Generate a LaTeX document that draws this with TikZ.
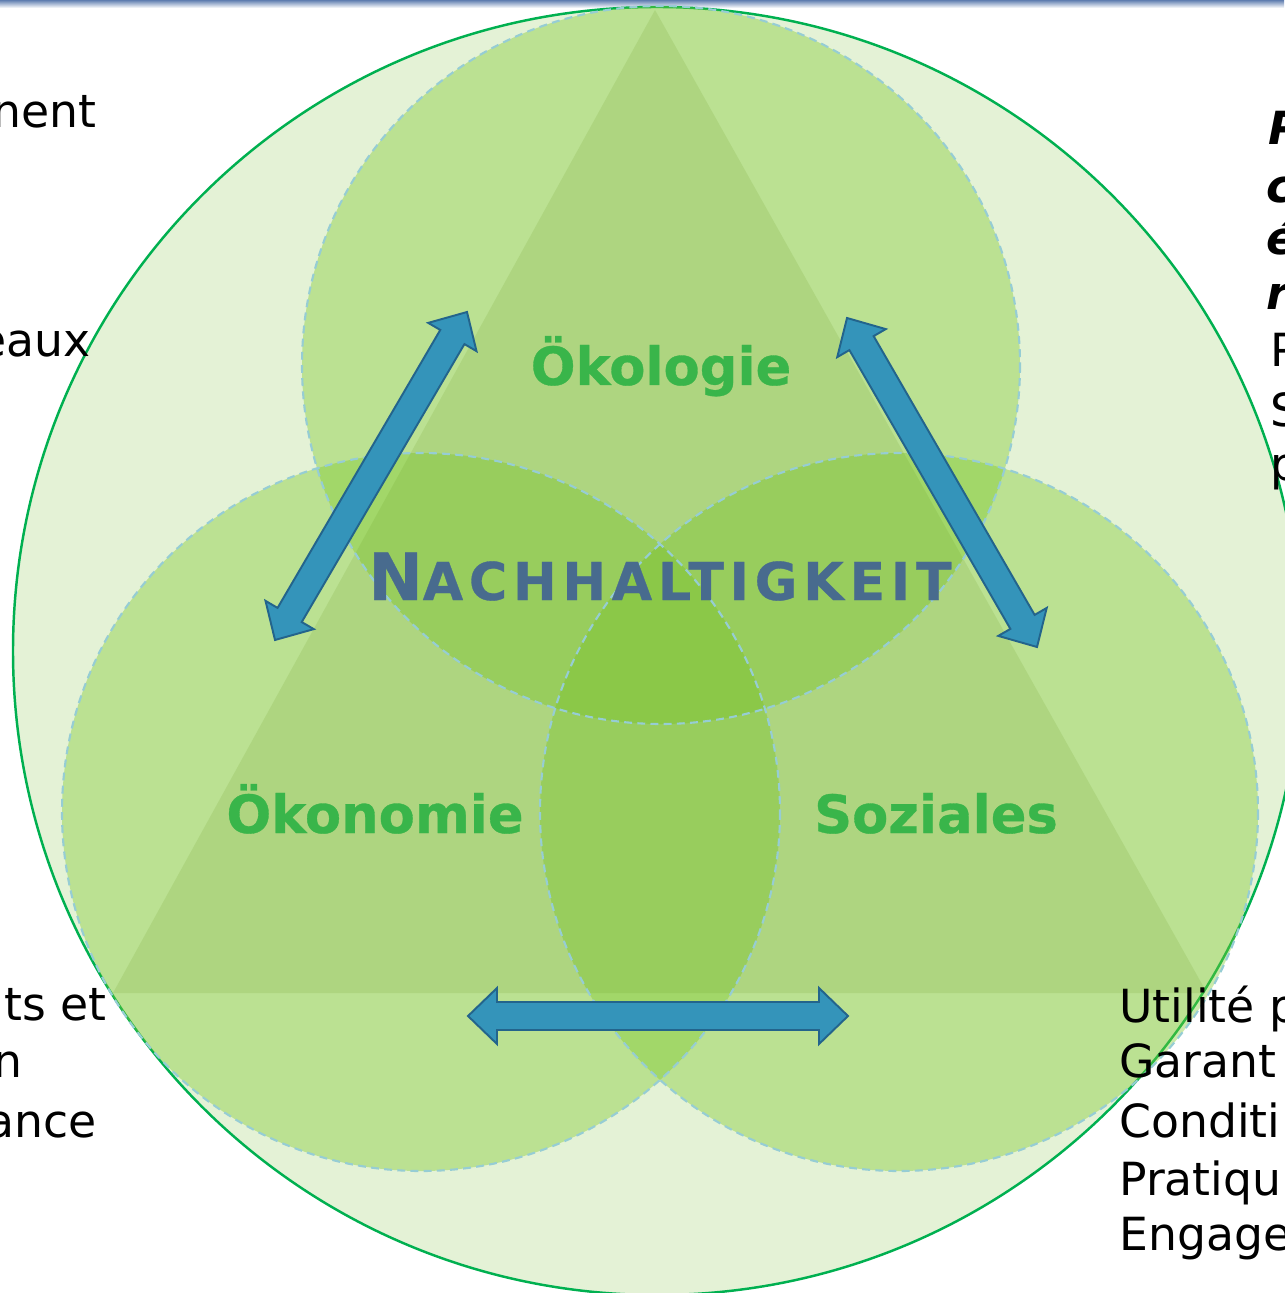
\documentclass[tikz,border=0pt]{standalone}
\usepackage{fontspec}
\setmainfont{DejaVu Sans}
\usetikzlibrary{calc}
\definecolor{bigfill}{RGB}{228,242,214}
\definecolor{bigline}{RGB}{0,176,80}
\definecolor{cfill}{RGB}{126,200,44}
\definecolor{cline}{RGB}{150,205,212}
\definecolor{trifill}{RGB}{100,150,30}
\definecolor{lblgreen}{RGB}{57,181,74}
\definecolor{titleblue}{RGB}{72,107,142}
\definecolor{arrfill}{RGB}{52,148,186}
\definecolor{arrline}{RGB}{35,100,140}
\definecolor{topbar}{RGB}{95,125,175}
\tikzset{
  circfill/.style={fill=cfill, fill opacity=0.4},
  circline/.style={draw=cline, line width=1.2pt, dash pattern=on 4.5pt off 3pt},
  arrowbody/.style={fill=arrfill, draw=arrline, line width=1.1pt, line join=miter},
  pillar/.style={font=\bfseries\fontsize{30}{36}\selectfont\addfontfeature{FakeBold=0.6}, text=lblgreen, inner sep=0pt, anchor=base},
  sidetxt/.style={font=\fontsize{26}{32}\selectfont, text=black, inner sep=0pt},
  sidebold/.style={font=\bfseries\itshape\fontsize{26}{32}\selectfont, text=black, inner sep=0pt}
}
\newcommand\blockarrow[2]{%
  \coordinate (#1-h) at ($(#1)!0.58cm!(#2)$);
  \coordinate (#2-h) at ($(#2)!0.58cm!(#1)$);
  \draw[arrowbody] (#1)
    -- ($(#1-h)!0.56cm!90:(#2)$)
    -- ($(#1-h)!0.28cm!90:(#2)$)
    -- ($(#2-h)!0.28cm!-90:(#1)$)
    -- ($(#2-h)!0.56cm!-90:(#1)$)
    -- (#2)
    -- ($(#2-h)!0.56cm!90:(#1)$)
    -- ($(#2-h)!0.28cm!90:(#1)$)
    -- ($(#1-h)!0.28cm!-90:(#2)$)
    -- ($(#1-h)!0.56cm!-90:(#2)$)
    -- cycle;}
\begin{document}
\begin{tikzpicture}[x=0.02cm, y=-0.02cm]
\useasboundingbox (0,0) rectangle (1284,1293);
\shade[top color=topbar, bottom color=white] (0,0) rectangle (1284,8);
% big circle
\draw[bigline, fill=bigfill, line width=1.4pt] (657,651) circle[radius=644];
% three circles
\path[circfill] (661,365) circle[radius=359];
\path[circfill] (421,812) circle[radius=359];
\path[circfill] (899,812) circle[radius=359];
% triangle
\begin{scope}
  \clip (657,651) circle[radius=644];
  \fill[trifill, fill opacity=0.15] (655,10) -- (113,993) -- (1207,993) -- cycle;
\end{scope}
% dashed outlines
\draw[circline] (661,365) circle[radius=359];
\draw[circline] (421,812) circle[radius=359];
\draw[circline] (899,812) circle[radius=359];
% arrows
\coordinate (lA) at (467,312);
\coordinate (lB) at (275,640);
\coordinate (rA) at (847,318);
\coordinate (rB) at (1037,647);
\coordinate (bA) at (468,1016);
\coordinate (bB) at (848,1016);
\blockarrow{lA}{lB}
\blockarrow{rA}{rB}
\blockarrow{bA}{bB}
% labels
\node[pillar] (oeko) at (661,385) {Ökologie};
\node[pillar] (oekon) at (375,833) {Ökonomie};
\node[pillar] (soz) at (936,833) {Soziales};
\node[inner sep=0pt, anchor=base, text=titleblue, font=\bfseries] (nach) at (660,600)
  {\addfontfeature{LetterSpace=11,FakeBold=0.6}{\fontsize{37}{40}\selectfont N}{\fontsize{29.7}{34}\selectfont ACHHALTIGKEIT}};
% left side texts (cut off)
\node[sidetxt, anchor=base east] (l1) at (97,128) {nent};
\node[sidetxt, anchor=base east] (l2) at (91,357) {eaux};
\node[sidetxt, anchor=base east] (l3) at (107,1020) {ts et};
\node[sidetxt, anchor=base east] (l4) at (23,1077) {n};
\node[sidetxt, anchor=base east] (l5) at (97,1137) {ance};
% right side texts (cut off)
\node[sidebold, anchor=base west] (r1) at (1268,145) {P};
\node[sidebold, anchor=base west] (r2) at (1266,203) {c};
\node[sidebold, anchor=base west] (r3) at (1266,255) {é};
\node[sidebold, anchor=base west] (r4) at (1266,310) {r};
\node[sidetxt, anchor=base west] (r5) at (1270,367) {P};
\node[sidetxt, anchor=base west] (r6) at (1270,427) {S};
\node[sidetxt, anchor=base west] (r7) at (1270,480) {p};
\node[sidetxt, anchor=base west] (b1) at (1119,1022) {Utilité p};
\node[sidetxt, anchor=base west] (b2) at (1119,1077) {Garant};
\node[sidetxt, anchor=base west] (b3) at (1119,1137) {Conditi};
\node[sidetxt, anchor=base west] (b4) at (1119,1195) {Pratiqu};
\node[sidetxt, anchor=base west] (b5) at (1119,1250) {Engage};
\end{tikzpicture}
\end{document}
